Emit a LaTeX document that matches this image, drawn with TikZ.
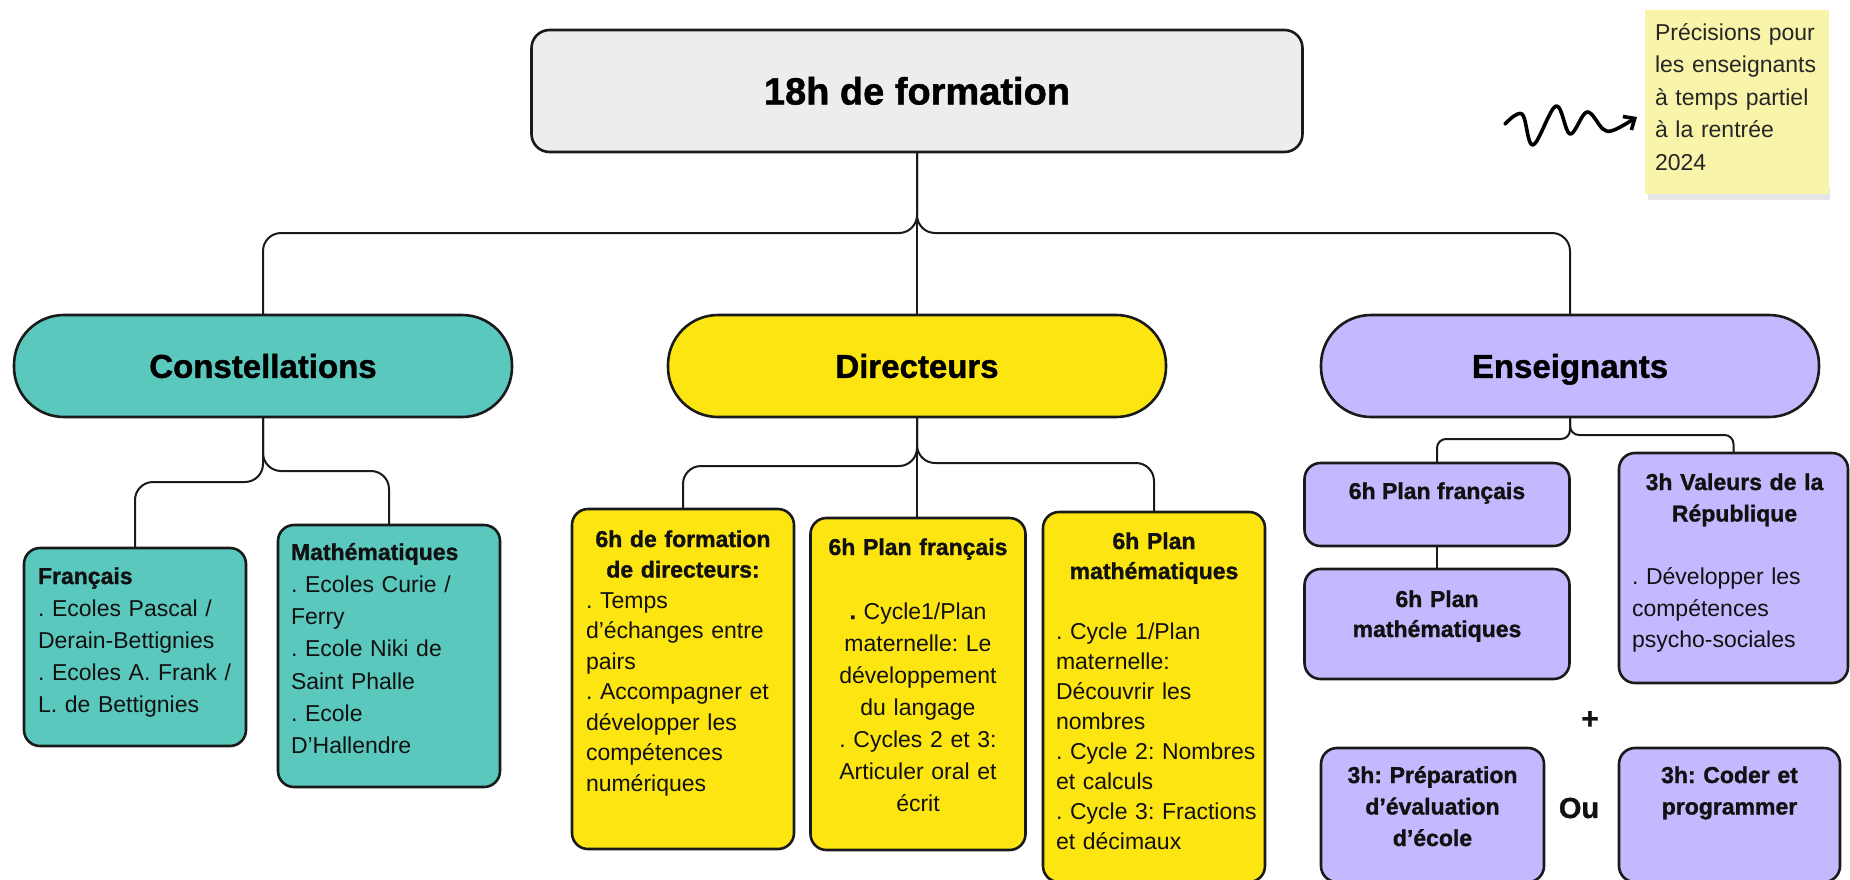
\documentclass[tikz,border=0pt]{standalone}
\usepackage{fontspec}
\setmainfont{Liberation Sans}[BoldFeatures={FakeBold=1.2}]
\frenchspacing
\usetikzlibrary{arrows.meta}
\definecolor{cteal}{HTML}{5BC8BE}
\definecolor{cyel}{HTML}{FDE512}
\definecolor{clav}{HTML}{C5B8FE}
\definecolor{cgray}{HTML}{EDEDED}
\definecolor{cnote}{HTML}{F8F4AA}
\definecolor{cshadow}{HTML}{E4E6EA}
\definecolor{cline}{HTML}{1A1A1A}
\definecolor{ctext}{HTML}{111111}
\tikzset{
  box/.style={draw=cline, line width=2.6pt, rounded corners=16pt, inner sep=0pt, outer sep=0pt},
  pill/.style={box, rounded corners=50pt, minimum width=498pt, minimum height=102pt,
    font=\fontsize{33}{40}\selectfont\bfseries, text height=23.6pt, text depth=0pt},
  conn/.style={draw=cline, line width=2pt, rounded corners=18pt},
  txt/.style={inner sep=0pt, outer sep=0pt, text=ctext, font=\fontsize{23}{#1}\selectfont\frenchspacing},
  txt/.default=32,
  sym/.style={inner sep=0pt, outer sep=0pt, text=ctext, font=\fontsize{#1}{#1}\selectfont\bfseries},
}
\begin{document}
\begin{tikzpicture}[x=1pt,y=-1pt]
\useasboundingbox (0,0) rectangle (1850,879);
\clip (0,0) rectangle (1850,879);
\fill[white] (0,0) rectangle (1850,879);

% top
\node[box, fill=cgray, rounded corners=18pt, minimum width=771pt, minimum height=122pt,
  font=\fontsize{38}{44}\selectfont\bfseries, text height=27pt, text depth=0pt] (top) at (917,91) {18h de formation};

% level 1
\node[pill, fill=cteal] (cons) at (263,366) {Constellations};
\node[pill, fill=cyel] (dir) at (917,366) {Directeurs};
\node[pill, fill=clav] (ens) at (1570,366) {Enseignants};

% level 2 boxes
\node[box, fill=cteal, minimum width=222pt, minimum height=198pt] (fr) at (135,647) {};
\node[box, fill=cteal, minimum width=222pt, minimum height=262pt] (ma) at (389,656) {};
\node[box, fill=cyel, minimum width=222pt, minimum height=340pt] (d1) at (683,679) {};
\node[box, fill=cyel, minimum width=215pt, minimum height=332pt] (d2) at (918,684) {};
\node[box, fill=cyel, minimum width=222pt, minimum height=370pt] (d3) at (1154,697) {};
\node[box, fill=clav, minimum width=265pt, minimum height=83pt] (e1) at (1437,504.5) {};
\node[box, fill=clav, minimum width=265pt, minimum height=110pt] (e2) at (1437,624) {};
\node[box, fill=clav, minimum width=229pt, minimum height=230pt] (e3) at (1733.5,568) {};
\node[box, fill=clav, minimum width=223pt, minimum height=134pt] (e4) at (1432.5,815) {};
\node[box, fill=clav, minimum width=221pt, minimum height=134pt] (e5) at (1729.5,815) {};

% texts
\node[txt=32, anchor=base west, text width=215pt] (frt) at (38,584)
  {\textbf{Français}\\. Ecoles Pascal /\\Derain-Bettignies\\. Ecoles A. Frank /\\L. de Bettignies};
\node[txt=32.3, anchor=base west, text width=215pt] (mat) at (291,560)
  {\textbf{Mathématiques}\\. Ecoles Curie /\\Ferry\\. Ecole Niki de\\Saint Phalle\\. Ecole\\D’Hallendre};
\node[txt=30.5, anchor=base west, text width=194pt] (d1t) at (586,547)
  {{\centering\bfseries 6h de formation\\de directeurs:\par}\raggedright . Temps\\d’échanges entre\\pairs\\. Accompagner et\\développer les\\compétences\\numériques};
\node[txt=32, anchor=base, text width=200pt, align=center] (d2t) at (918,555)
  {\textbf{6h Plan français}\\[32pt]\textbf{.} Cycle1/Plan\\maternelle: Le\\développement\\du langage\\. Cycles 2 et 3:\\Articuler oral et\\écrit};
\node[txt=30, anchor=base west, text width=196pt] (d3t) at (1056,549)
  {{\centering\bfseries 6h Plan\\mathématiques\par}\vspace{30pt}\rightskip=0pt minus 40pt\parfillskip=0pt plus 1fil . Cycle 1/Plan\\maternelle:\\Découvrir les\\nombres\\. Cycle 2: Nombres\\et calculs\\. Cycle 3: Fractions\\et décimaux};
\node[txt, anchor=base] (e1t) at (1437,499) {\bfseries 6h Plan français};
\node[txt=30, anchor=base, text width=240pt, align=center] (e2t) at (1437,607)
  {\bfseries 6h Plan\\mathématiques};
\node[txt=31.5, anchor=base west, text width=205pt] (e3t) at (1632,490)
  {{\centering\bfseries 3h Valeurs de la\\République\par}\vspace{31.5pt}\raggedright . Développer les\\compétences\\psycho-sociales};
\node[txt=31.5, anchor=base, text width=210pt, align=center] (e4t) at (1432.5,783)
  {\bfseries 3h: Préparation\\d’évaluation\\d’école};
\node[txt=31.5, anchor=base, text width=210pt, align=center] (e5t) at (1729.5,783)
  {\bfseries 3h: Coder et\\programmer};
\node[sym=30] (plus) at (1590,720) {+};
\node[sym=29] (ou) at (1579,808) {Ou};

% connectors
\coordinate (h0) at (0,233);
\draw[conn] (top.south) -- (top.south |- h0) -- (cons.north |- h0) -- (cons.north);
\draw[conn] (top.south) -- (top.south |- h0) -- (ens.north |- h0) -- (ens.north);
\draw[conn] (top.south) -- (dir.north);

\coordinate (hc1) at (0,482);
\coordinate (hc2) at (0,471);
\draw[conn] (cons.south) -- (cons.south |- hc1) -- (fr.north |- hc1) -- (fr.north);
\draw[conn] (cons.south) -- (cons.south |- hc2) -- (ma.north |- hc2) -- (ma.north);

\coordinate (hd1) at (0,466);
\coordinate (hd2) at (0,463);
\draw[conn] (dir.south) -- (dir.south |- hd1) -- (d1.north |- hd1) -- (d1.north);
\draw[conn] (dir.south) -- (dir.south |- hd2) -- (d3.north |- hd2) -- (d3.north);
\draw[conn] (dir.south) -- (dir.south |- d2.north);

\coordinate (he1) at (0,439);
\coordinate (he2) at (0,435);
\draw[conn, rounded corners=9pt] (ens.south) -- (ens.south |- he1) -- (e1.north |- he1) -- (e1.north);
\draw[conn, rounded corners=9pt] (ens.south) -- (ens.south |- he2) -- (e3.north |- he2) -- (e3.north);
\draw[conn] (e1.south) -- (e2.north);

% sticky note
\fill[cshadow] (1648,188) rectangle (1830,200);
\node[fill=cnote, minimum width=184pt, minimum height=184pt, inner sep=0pt, outer sep=0pt] (note) at (1737,102) {};
\node[txt=32.5, anchor=base west, text width=180pt, text=black!85] (notet) at (1655,40)
  {Précisions pour\\les enseignants\\à temps partiel\\à la rentrée\\2024};

% squiggle arrow
\coordinate (sqend) at (1637,117);
\draw[line width=3.6pt, line cap=round, line join=round, -{Straight Barb[length=9pt,width=16pt]}]
  plot[smooth, tension=0.6] coordinates {(1505,124) (1522,114) (1533,145) (1556,106) (1570,134) (1587,112) (1603,129) (1614,130) (sqend)};
\end{tikzpicture}
\end{document}
